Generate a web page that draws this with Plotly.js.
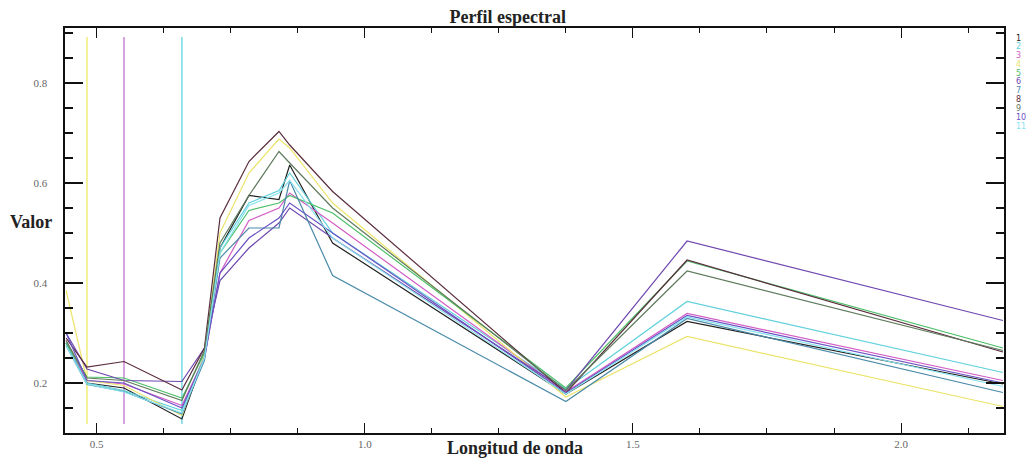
<!DOCTYPE html>
<html>
<head>
<meta charset="utf-8">
<script src="https://cdn.plot.ly/plotly-3.0.1.min.js"></script>
<style>
  html, body { margin: 0; padding: 0; background: #ffffff; }
  #chart { width: 1028px; height: 459px; }
</style>
</head>
<body>
<div id="chart"></div>
<script>
// Wavelengths (µm) of the band centres
const wavelengths = [0.443, 0.482, 0.551, 0.659, 0.701, 0.730, 0.784, 0.840, 0.860, 0.940, 1.375, 1.601, 2.190];

// Series names (legend) and colours
const seriesNames = ["1", "2", "3", "4", "5", "6", "7", "8", "9", "10", "11"];
const seriesColors = ["#222222", "#5fd0dc", "#d25cc4", "#ece46a", "#4cbf68", "#6e48b0",
                      "#4a8aa8", "#5a2c3c", "#5f7a5c", "#6a52c4", "#86e2ee"];

// Values per series (one per wavelength)
const s1  = [0.280, 0.200, 0.190, 0.128, 0.255, 0.470, 0.575, 0.567, 0.636, 0.480, 0.178, 0.323, 0.198];
const s2  = [0.280, 0.200, 0.185, 0.145, 0.255, 0.470, 0.560, 0.585, 0.620, 0.500, 0.188, 0.363, 0.221];
const s3  = [0.285, 0.205, 0.198, 0.155, 0.250, 0.420, 0.525, 0.550, 0.580, 0.520, 0.182, 0.339, 0.205];
const s4  = [0.385, 0.205, 0.195, 0.135, 0.255, 0.500, 0.620, 0.688, 0.670, 0.560, 0.172, 0.293, 0.153];
const s5  = [0.280, 0.212, 0.210, 0.170, 0.260, 0.460, 0.545, 0.560, 0.575, 0.540, 0.190, 0.444, 0.270];
const s6  = [0.300, 0.228, 0.205, 0.203, 0.270, 0.405, 0.470, 0.520, 0.550, 0.490, 0.185, 0.484, 0.325];
const s7  = [0.275, 0.197, 0.183, 0.138, 0.245, 0.450, 0.510, 0.510, 0.605, 0.415, 0.163, 0.329, 0.181];
const s8  = [0.290, 0.232, 0.243, 0.186, 0.270, 0.530, 0.643, 0.703, 0.676, 0.583, 0.180, 0.446, 0.262];
const s9  = [0.285, 0.210, 0.205, 0.165, 0.265, 0.480, 0.575, 0.663, 0.640, 0.550, 0.185, 0.424, 0.265];
const s10 = [0.300, 0.205, 0.200, 0.150, 0.250, 0.420, 0.490, 0.530, 0.560, 0.500, 0.180, 0.335, 0.200];
const s11 = [0.275, 0.198, 0.182, 0.140, 0.250, 0.460, 0.555, 0.580, 0.605, 0.490, 0.178, 0.332, 0.193];
const seriesValues = [s1, s2, s3, s4, s5, s6, s7, s8, s9, s10, s11];

// Display-band marker lines (vertical)
const markerBands  = [0.482, 0.551, 0.659];
const markerColors = ["#eeea62", "#c272d2", "#62d6e2"];
const markerRange  = [0.118, 0.892];

// Axis ticks
const xTickVals = [0.5, 1.0, 1.5, 2.0];
const xTickText = ["0.5", "1.0", "1.5", "2.0"];
const yTickVals = [0.2, 0.4, 0.6, 0.8];
const yTickText = ["0.2", "0.4", "0.6", "0.8"];

const traces = seriesValues.map((vals, i) => ({
  type: "scatter",
  mode: "lines",
  x: wavelengths,
  y: vals,
  name: seriesNames[i],
  line: { color: seriesColors[i], width: 1.2 },
  showlegend: false
}));

const shapes = markerBands.map((b, i) => ({
  type: "line", xref: "x", yref: "y",
  x0: b, x1: b, y0: markerRange[0], y1: markerRange[1],
  line: { color: markerColors[i], width: 1.3 },
  layer: "below"
}));

const serif = "Liberation Serif, DejaVu Serif, serif";
const annotations = [
  { text: "<b>Valor</b>", xref: "paper", yref: "paper", x: -0.036, y: 0.52,
    xanchor: "center", yanchor: "middle", showarrow: false,
    font: { family: serif, size: 18, color: "#222" } },
  { text: "<b>Longitud de onda</b>", xref: "paper", yref: "paper", x: 0.479, y: -0.037,
    xanchor: "center", yanchor: "middle", showarrow: false,
    font: { family: serif, size: 18, color: "#222" } }
];
seriesNames.forEach((n, i) => {
  annotations.push({
    text: n, xref: "paper", yref: "paper",
    x: 1.011, y: (433 - (38 + i * 8.8)) / 405,
    xanchor: "left", yanchor: "middle", showarrow: false,
    font: { family: "DejaVu Sans, sans-serif", size: 8, color: seriesColors[i] }
  });
});

const layout = {
  width: 1028, height: 459,
  margin: { l: 65, r: 24, t: 28, b: 26 },
  paper_bgcolor: "#ffffff", plot_bgcolor: "#ffffff",
  title: { text: "<b>Perfil espectral</b>", x: 0.494, xref: "container", xanchor: "center",
           y: 0.963, yref: "container", yanchor: "middle",
           font: { family: serif, size: 18, color: "#222" } },
  xaxis: {
    range: [0.441, 2.192], showgrid: false, zeroline: false,
    showline: true, linecolor: "#111", linewidth: 1.6, mirror: "ticks",
    ticks: "inside", ticklen: 10, tickcolor: "#111", tickwidth: 1,
    tickvals: xTickVals, ticktext: xTickText,
    tickfont: { family: serif, size: 11, color: "#666" },
    minor: { dtick: 0.125, tick0: 0.5, ticks: "inside", ticklen: 5, tickcolor: "#111", showgrid: false }
  },
  yaxis: {
    range: [0.1, 0.91], showgrid: false, zeroline: false,
    showline: true, linecolor: "#111", linewidth: 1.6, mirror: "ticks",
    ticks: "inside", ticklen: 18, tickcolor: "#111", tickwidth: 1.4,
    tickvals: yTickVals, ticktext: yTickText, ticklabelstandoff: 14,
    tickfont: { family: serif, size: 11, color: "#666" },
    minor: { dtick: 0.05, tick0: 0.2, ticks: "inside", ticklen: 8, tickcolor: "#111", showgrid: false }
  },
  shapes: shapes,
  annotations: annotations,
  showlegend: false
};

Plotly.newPlot("chart", traces, layout, { displayModeBar: false, staticPlot: true });
</script>
</body>
</html>
